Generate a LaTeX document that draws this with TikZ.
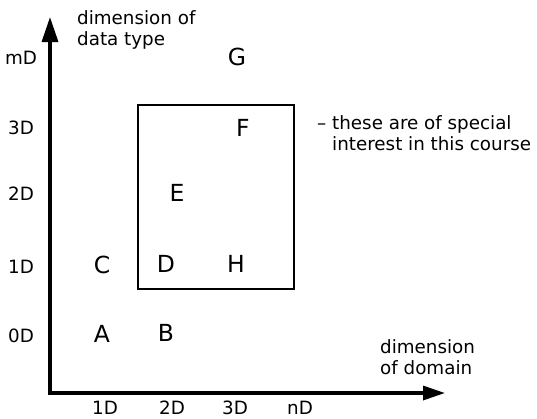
\documentclass[tikz,border=0pt]{standalone}
\usepackage{fontspec}
\setmainfont{DejaVu Sans}
\usetikzlibrary{arrows.meta}
\begin{document}
\begin{tikzpicture}[x=1pt,y=-1pt,
  txt/.style={inner sep=0pt,font=\fontsize{18.3}{21.5}\selectfont},
  letter/.style={inner sep=0pt,font=\fontsize{23.5}{27}\selectfont},
  axisline/.style={line width=3.3pt,line join=miter,
    {Triangle[length=25pt,width=16pt]}-{Triangle[length=22pt,width=14pt]}},
  boxline/.style={draw,line width=2.6pt,inner sep=0pt}]
\useasboundingbox (0,0) rectangle (537,418);
\coordinate (ytop) at (50,17);
\coordinate (origin) at (50,393);
\coordinate (xend) at (445,393);
\draw[axisline] (ytop) -- (origin) -- (xend);
\node[boxline,minimum width=156pt,minimum height=184pt] (box) at (216,197) {};
% axis titles
\node[txt,anchor=west,align=left] (ytitle) at (77,30) {dimension of\\data type};
\node[txt,anchor=west,align=left] (xtitle) at (380,357) {dimension\\of domain};
% y ticks
\node[txt] (ym) at (21,58) {mD};
\node[txt] (y3) at (21,128) {3D};
\node[txt] (y2) at (21,194) {2D};
\node[txt] (y1) at (21,267) {1D};
\node[txt] (y0) at (21,336) {0D};
% x ticks
\node[txt] (x1) at (105,408) {1D};
\node[txt] (x2) at (172,408) {2D};
\node[txt] (x3) at (235,408) {3D};
\node[txt] (xn) at (300,408) {nD};
% letters
\node[letter] (A) at (102,334) {A};
\node[letter] (B) at (166,333) {B};
\node[letter] (C) at (102,265) {C};
\node[letter] (D) at (166,264) {D};
\node[letter] (H) at (236,264) {H};
\node[letter] (E) at (177,193) {E};
\node[letter] (F) at (243,128) {F};
\node[letter] (G) at (237,57) {G};
% note
\node[txt,anchor=west,align=left] (note) at (332,133) {\llap{– }these are of special\\interest in this course};
\end{tikzpicture}
\end{document}
